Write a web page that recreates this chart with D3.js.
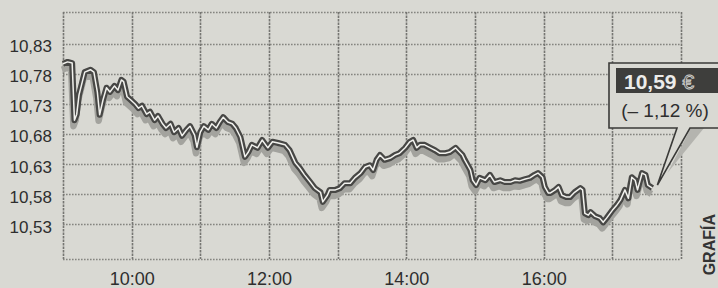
<!DOCTYPE html>
<html lang="es">
<head>
    <meta charset="UTF-8">
    <title>Cotización</title>
    <script type="text/javascript" src="https://cdnjs.cloudflare.com/ajax/libs/d3/7.8.5/d3.min.js"></script>
    <style>
        body { margin: 0; background: #d9d9d3; }
        svg { display: block; font-family: "Liberation Sans", Arial, sans-serif; }
    </style>
</head>
<body>
<div id="chart"></div>
<script>
    var times = ["09:00","09:04","09:08","09:10","09:12","09:14","09:19","09:24","09:27","09:30",
        "09:32","09:35","09:38","09:41","09:45","09:48","09:51","09:53","09:56","09:59",
        "10:03","10:06","10:09","10:13","10:16","10:20","10:23","10:27","10:30","10:34",
        "10:37","10:41","10:44","10:48","10:51","10:55","10:57","11:00","11:03","11:07",
        "11:10","11:14","11:17","11:20","11:24","11:28","11:31","11:35","11:39","11:42",
        "11:45","11:50","11:54","11:59","12:03","12:08","12:14","12:18","12:23","12:27",
        "12:31","12:36","12:40","12:45","12:47","12:51","12:53","12:58","13:02","13:06",
        "13:11","13:15","13:20","13:24","13:28","13:31","13:34","13:37","13:41","13:46",
        "13:50","13:54","13:59","14:03","14:06","14:09","14:12","14:16","14:21","14:25",
        "14:29","14:34","14:38","14:43","14:45","14:49","14:51","14:56","14:58","15:01",
        "15:04","15:09","15:13","15:17","15:22","15:26","15:31","15:35","15:39","15:44",
        "15:48","15:52","15:55","15:59","16:01","16:04","16:06","16:10","16:13","16:16",
        "16:20","16:23","16:27","16:32","16:34","16:36","16:39","16:41","16:45","16:49",
        "16:52","16:55","17:00","17:04","17:07","17:11","17:14","17:17","17:20","17:22",
        "17:26","17:29","17:31","17:35"];

    var prices = [10.797,10.800,10.798,10.703,10.713,10.745,10.783,10.787,10.783,10.750,
        10.712,10.737,10.757,10.750,10.760,10.753,10.770,10.767,10.742,10.737,
        10.730,10.723,10.727,10.713,10.717,10.703,10.710,10.697,10.690,10.697,
        10.683,10.690,10.677,10.687,10.693,10.678,10.658,10.683,10.693,10.687,
        10.697,10.690,10.700,10.708,10.700,10.697,10.690,10.675,10.642,10.650,
        10.662,10.657,10.670,10.657,10.667,10.665,10.662,10.653,10.632,10.623,
        10.612,10.600,10.590,10.583,10.567,10.578,10.587,10.587,10.590,10.598,
        10.598,10.607,10.615,10.625,10.628,10.620,10.637,10.645,10.637,10.640,
        10.645,10.648,10.657,10.667,10.670,10.657,10.662,10.662,10.657,10.653,
        10.648,10.648,10.650,10.657,10.653,10.645,10.637,10.620,10.603,10.595,
        10.607,10.603,10.612,10.600,10.603,10.600,10.600,10.603,10.602,10.605,
        10.607,10.612,10.615,10.608,10.592,10.582,10.582,10.587,10.592,10.578,
        10.575,10.575,10.583,10.590,10.587,10.548,10.545,10.550,10.543,10.540,
        10.533,10.540,10.553,10.562,10.570,10.587,10.573,10.608,10.603,10.587,
        10.615,10.612,10.595,10.590];

    var hourLines = ["09:00","10:00","11:00","12:00","13:00","14:00","15:00","16:00","17:00","18:00"];
    var xTickLabels = ["10:00","12:00","14:00","16:00"];
    var yTicks = [10.53, 10.58, 10.63, 10.68, 10.73, 10.78, 10.83];
    var yTickLabels = ["10,53","10,58","10,63","10,68","10,73","10,78","10,83"];
    var yDomain = [10.472, 10.883];
    var lastPrice = "10,59";
    var lastChange = "(– 1,12 %)";
    var credit = "GRAFÍA";

    var width = 718, height = 288,
        margin = {top: 12, right: 37, bottom: 29, left: 63};
    var w = width - margin.left - margin.right,
        h = height - margin.top - margin.bottom;

    var parse = d3.timeParse("%H:%M");
    var data = times.map(function(t, i) { return {t: parse(t), v: prices[i]}; });

    var x = d3.scaleTime()
        .domain([parse(hourLines[0]), parse(hourLines[hourLines.length - 1])])
        .range([0, w]);
    var y = d3.scaleLinear().domain(yDomain).range([h, 0]);

    var svg = d3.select("#chart").append("svg")
        .attr("width", width)
        .attr("height", height);

    svg.append("rect").attr("width", width).attr("height", height).attr("fill", "#d9d9d3");

    var g = svg.append("g").attr("transform", "translate(" + margin.left + "," + margin.top + ")");

    // grid: horizontal dotted, vertical a bit heavier
    g.selectAll(".hgrid")
        .data(yTicks.concat(yDomain))
        .enter().append("line")
        .attr("x1", 0).attr("x2", w)
        .attr("y1", function(d) { return Math.round(y(d)) + 0.5; })
        .attr("y2", function(d) { return Math.round(y(d)) + 0.5; })
        .attr("stroke", "#858580")
        .attr("stroke-width", 1.6)
        .attr("stroke-dasharray", "1.6,1.4");

    g.selectAll(".vgrid")
        .data(hourLines.map(parse))
        .enter().append("line")
        .attr("x1", function(d) { return Math.round(x(d)) + 0.5; })
        .attr("x2", function(d) { return Math.round(x(d)) + 0.5; })
        .attr("y1", 0).attr("y2", h)
        .attr("stroke", "#767672")
        .attr("stroke-width", 1.6)
        .attr("stroke-dasharray", "2.5,1");

    var yAxis = d3.axisLeft(y)
        .tickValues(yTicks)
        .tickSize(0)
        .tickPadding(11)
        .tickFormat(function(d, i) { return yTickLabels[i]; });

    var xAxis = d3.axisBottom(x)
        .tickValues(xTickLabels.map(parse))
        .tickSize(0)
        .tickPadding(13)
        .tickFormat(function(d, i) { return xTickLabels[i]; });

    g.append("g").call(yAxis)
        .call(function(a) { a.select(".domain").remove(); })
        .selectAll("text")
        .attr("dy", "0.47em")
        .attr("fill", "#2e2e2e")
        .style("font-size", "17px")
        .style("font-family", "Liberation Sans, Arial, sans-serif");

    g.append("g").attr("transform", "translate(0," + h + ")").call(xAxis)
        .call(function(a) { a.select(".domain").remove(); })
        .selectAll("text")
        .attr("fill", "#2e2e2e")
        .style("font-size", "18px")
        .style("font-family", "Liberation Sans, Arial, sans-serif");

    var line = d3.line()
        .x(function(d) { return x(d.t); })
        .y(function(d) { return y(d.v); });

    // shadow, dark outline, white core
    g.append("path").datum(data)
        .attr("d", line)
        .attr("transform", "translate(-1,6)")
        .attr("fill", "none")
        .attr("stroke", "#a3a39e")
        .attr("stroke-width", 6.5)
        .attr("stroke-linejoin", "round");
    g.append("path").datum(data)
        .attr("d", line)
        .attr("fill", "none")
        .attr("stroke", "#474745")
        .attr("stroke-width", 6)
        .attr("stroke-linejoin", "round");
    g.append("path").datum(data)
        .attr("d", line)
        .attr("fill", "none")
        .attr("stroke", "#f2f2ee")
        .attr("stroke-width", 1.5)
        .attr("stroke-linejoin", "round");

    // callout bubble pointing at the last price
    var last = data[data.length - 1];
    var tipX = margin.left + x(last.t) + 5,
        tipY = margin.top + y(last.v) - 3;
    var bx0 = 609, bx1 = 722, by0 = 63, by1 = 128, tail0 = 677, tail1 = 690;

    var bubble = [[bx0, by0], [bx1, by0], [bx1, by1], [tail1, by1], [tipX, tipY], [tail0, by1], [bx0, by1]];

    svg.append("polygon")
        .attr("points", [[tail0 + 14, by1], [tail1 + 14, by1], [tipX + 10, tipY - 12]].join(" "))
        .attr("fill", "#b4b4af");
    svg.append("polygon")
        .attr("points", bubble.join(" "))
        .attr("fill", "#d9d9d3")
        .attr("stroke", "#3a3a38")
        .attr("stroke-width", 1.6)
        .attr("stroke-linejoin", "miter");

    svg.append("rect")
        .attr("x", 616).attr("y", 68)
        .attr("width", 106).attr("height", 25)
        .attr("fill", "#3e3e3c");

    var price = svg.append("text")
        .attr("x", 624).attr("y", 89)
        .style("font-size", "21px")
        .style("font-weight", "bold")
        .attr("fill", "#ececea");
    price.append("tspan").text(lastPrice);
    price.append("tspan").attr("dx", 6).style("font-weight", "normal")
        .attr("fill", "#3e3e3c").attr("stroke", "#d0d0cc").attr("stroke-width", 0.9)
        .text("€");

    svg.append("text")
        .attr("x", 665).attr("y", 117)
        .attr("text-anchor", "middle")
        .style("font-size", "19px")
        .attr("fill", "#2e2e2e")
        .text(lastChange);

    svg.append("text")
        .attr("transform", "translate(715,214) rotate(-90)")
        .attr("text-anchor", "end")
        .style("font-size", "16px")
        .style("font-weight", "bold")
        .attr("fill", "#333")
        .text(credit);
</script>
</body>
</html>
